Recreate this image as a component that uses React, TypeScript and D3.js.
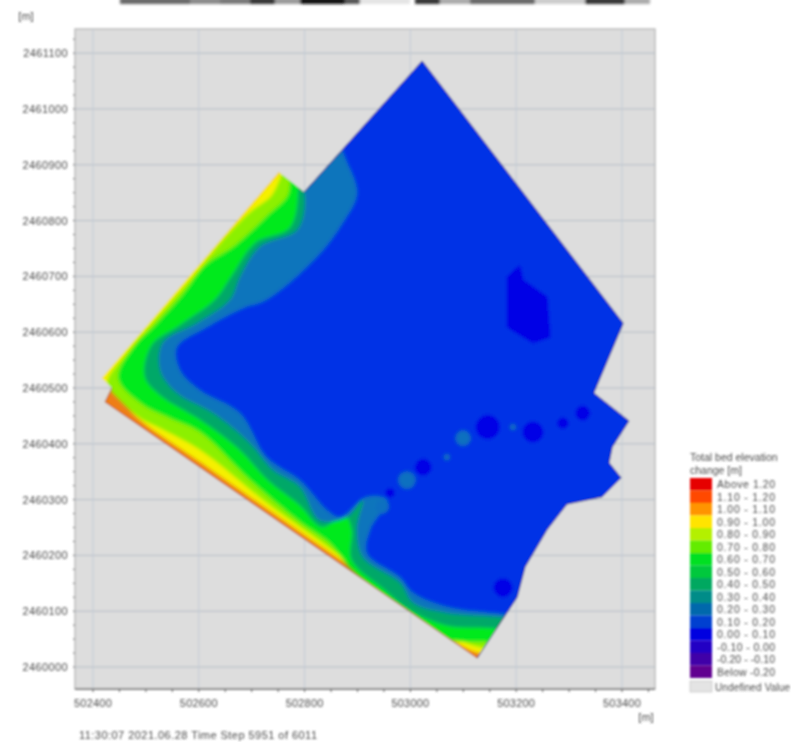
import React from "react";
import * as d3 from "d3";

type P = [number, number];

// Model coordinates are metres east / north of this origin.
const E0 = 502400;
const N0 = 2460000;
const eastTicks = [0, 200, 400, 600, 800, 1000];
const northTicks = [1100, 1000, 900, 800, 700, 600, 500, 400, 300, 200, 100, 0];

const domainOutline: P[] = [[627,1086],[1010,616],[954,491],[1021,441],[989,394],[983,366],[1006,339],[970,305],[903,292],[865,246],[823,179],[808,125],[732,16],[23,475],[36,500],[17,518],[354,887],[402,851]];
const seawardEdge: P[] = [[732,16],[23,475],[36,500]];
const landwardEdge: P[] = [[402,851],[627,1086],[1010,616],[954,491],[1021,441],[989,394],[983,366],[1006,339],[970,305],[903,292],[865,246],[823,179],[808,125],[732,16]];

const contourYellow: P[] = [[366,900],[23,529],[11,514],[48,487],[80,450],[204,367],[394,242],[585,118],[718,30],[832,9]];
const contourLime: P[] = [[362,891],[341,846],[299,815],[251,769],[185,694],[128,633],[61,559],[27,509],[51,478],[90,446],[128,428],[204,389],[337,290],[432,226],[528,159],[623,97],[690,52],[743,34],[832,27]];
const contourGreen: P[] = [[375,891],[371,846],[333,810],[271,756],[213,720],[170,667],[118,613],[80,577],[48,518],[95,470],[147,446],[204,421],[299,335],[394,260],[451,222],[490,177],[556,124],[623,75],[680,48],[747,45],[832,39]];
const contourTealGreen: P[] = [[387,891],[391,851],[375,787],[309,760],[265,702],[232,658],[166,613],[112,577],[99,520],[128,487],[204,443],[280,389],[333,335],[394,290],[436,251],[480,272],[493,246],[493,192],[556,138],[604,102],[671,75],[756,70],[832,66]];
const contourTeal: P[] = [[391,891],[404,837],[389,783],[318,753],[280,699],[261,658],[198,616],[133,581],[128,532],[160,491],[229,455],[299,401],[343,353],[394,323],[432,263],[484,269],[514,299],[503,251],[514,197],[585,151],[610,115],[674,97],[770,90],[832,84]];
const contourBlue: P[] = [[461,962],[480,914],[503,849],[476,796],[427,735],[331,658],[286,643],[217,609],[160,573],[166,532],[204,496],[280,455],[331,376],[394,335],[446,281],[471,269],[522,305],[560,299],[528,246],[522,204],[585,161],[610,133],[674,108],[762,97],[832,93]];

const bandContours = [contourYellow, contourLime, contourGreen, contourTealGreen, contourTeal, contourBlue];
const bandColors = ["#f6f000", "#8cf000", "#00ea1c", "#00a868", "#0d74bc", "#0030e6"];
const baseColor = "#ee7d16";

const deepBlob: P[] = [[789,699],[813,720],[819,694],[865,663],[871,591],[838,581],[789,609]];
const deepSpots: [number, number, number][] = [[752,430,22],[838,421,19],[895,437,10],[933,455,13],[629,358,15],[566,312,8],[781,142,17]];
const shallowSpots: [number, number, number][] = [[705,410,15],[598,335,17],[551,287,13],[674,376,6],[800,430,6]];

const legendTitle = ["Total bed elevation", "change [m]"];
const legendLabels = ["Above  1.20","1.10 - 1.20","1.00 - 1.10","0.90 - 1.00","0.80 - 0.90","0.70 - 0.80","0.60 - 0.70","0.50 - 0.60","0.40 - 0.50","0.30 - 0.40","0.20 - 0.30","0.10 - 0.20","0.00 - 0.10","-0.10 - 0.00","-0.20 - -0.10","Below  -0.20"];
const legendColors = ["#e60000","#ff4a00","#ff9400","#ffe400","#b4f000","#64ec00","#00e020","#00c83c","#00a860","#008c88","#0068ac","#0040d0","#0000e0","#2000c4","#4000a8","#600090"];
const undefinedLabel = "Undefined Value";
const footer = "11:30:07 2021.06.28   Time Step 5951 of 6011";

const topStrip: [number, number, string][] = [[120,190,"#666"],[190,220,"#888"],[220,250,"#777"],[250,275,"#333"],[275,300,"#999"],[300,345,"#111"],[345,360,"#555"],[360,410,"#e4e4e4"],[415,440,"#333"],[440,470,"#aaa"],[470,535,"#666"],[535,585,"#ccc"],[585,625,"#333"],[625,650,"#aaa"]];

const frame = { l: 75, r: 655, t: 29, b: 689 };
const x = d3.scaleLinear().domain([-34.3, 1070.6]).range([frame.l, frame.r]);
const y = d3.scaleLinear().domain([-39.4, 1143.3]).range([frame.b, frame.t]);
// The drawn axis runs a little wider than the plan view, as in the source picture.
const xAxis = d3.scaleLinear().domain([0, 1000]).range([93, 622]);
const line = d3.line<P>().x((d) => x(d[0])).y((d) => y(d[1]));
const contourLine = d3.line<P>().x((d) => x(d[0])).y((d) => y(d[1])).curve(d3.curveCatmullRom.alpha(0.5));
const [, xMax] = x.domain();
const [, yMax] = y.domain();
const bandPath = (c: P[]) =>
  contourLine(c) + "L" + [[xMax, c[c.length - 1][1]], [xMax, yMax], [c[0][0], yMax]].map((p) => `${x(p[0])},${y(p[1])}`).join("L") + "Z";
const minorX = d3.range(0, 1051, 50);
const minorY = d3.range(0, 1141, 25);
const font = "'Liberation Sans', Arial, sans-serif";
const ink = "#4a4a4a";

export default function App() {
  return (
    <svg width={791} height={742} style={{ position: "absolute", left: 0, top: 0, background: "#fff" }} fontFamily={font}>
      <defs>
        <filter id="soft" x="-2%" y="-2%" width="104%" height="104%"><feGaussianBlur stdDeviation="0.8" /></filter>
        <filter id="txt" x="-5%" y="-5%" width="110%" height="110%"><feGaussianBlur stdDeviation="0.85" /></filter>
        <filter id="band" x="-5%" y="-5%" width="110%" height="110%"><feGaussianBlur stdDeviation="1.8" /></filter>
        <filter id="strip" x="-2%" y="-100%" width="104%" height="300%"><feGaussianBlur stdDeviation="1.6" /></filter>
        <clipPath id="dom"><path d={line(domainOutline) + "Z"} /></clipPath>
      </defs>
      <g filter="url(#strip)">
        {topStrip.map(([a, b, c]) => <rect key={a} x={a} y={-2} width={b - a} height={6} fill={c} />)}
      </g>
      <g filter="url(#soft)">
        <rect x={frame.l} y={frame.t} width={frame.r - frame.l} height={frame.b - frame.t} fill="#dddddd" stroke="#bdbdbd" strokeWidth={1.5} />
        {northTicks.map((t) => <line key={t} x1={frame.l} x2={frame.r} y1={y(t)} y2={y(t)} stroke="#b4bcc6" strokeWidth={1} />)}
        {eastTicks.map((t) => <line key={t} x1={xAxis(t)} x2={xAxis(t)} y1={frame.t} y2={frame.b} stroke="#c2cbd6" strokeWidth={1} />)}
        <g clipPath="url(#dom)">
          <path d={line(domainOutline) + "Z"} fill={baseColor} />
          <g filter="url(#band)">
            {bandContours.map((c, i) => <path key={i} d={bandPath(c)} fill={bandColors[i]} />)}
          </g>
          <g filter="url(#band)">
            <path d={line(deepBlob) + "Z"} fill="#0000e6" />
            {deepSpots.map(([a, b, r]) => <circle key={a} cx={x(a)} cy={y(b)} r={x(r) - x(0)} fill="#0000e6" />)}
            {shallowSpots.map(([a, b, r]) => <circle key={a} cx={x(a)} cy={y(b)} r={x(r) - x(0)} fill="#0e70c0" />)}
          </g>
        </g>
        <path d={line(landwardEdge) ?? ""} fill="none" stroke="#12247a" strokeWidth={0.9} />
        <path d={line(seawardEdge) ?? ""} fill="none" stroke="#b85a10" strokeWidth={1} />
        <line x1={frame.l} x2={frame.r} y1={frame.b} y2={frame.b} stroke="#444" strokeWidth={1.2} />
        {minorX.map((t) => <line key={t} x1={xAxis(t)} x2={xAxis(t)} y1={frame.b} y2={frame.b + 3} stroke="#555" />)}
        {minorY.map((t) => <line key={t} x1={frame.l - 2} x2={frame.l} y1={y(t)} y2={y(t)} stroke="#666" />)}
        {legendLabels.map((s, i) => <rect key={s} x={690} y={478 + i * 12.5} width={22} height={12.5} fill={legendColors[i]} />)}
        <rect x={690} y={681} width={22} height={11} fill="#e4e4e4" stroke="#aaa" strokeWidth={0.5} />
      </g>
      <g filter="url(#txt)" fill={ink}>
        <g fontSize={11}>
          {northTicks.map((t) => <text key={t} x={68} y={y(t) + 4} textAnchor="end" letterSpacing={0.4}>{N0 + t}</text>)}
          {eastTicks.map((t) => <text key={t} x={xAxis(t)} y={707} textAnchor="middle" letterSpacing={0.2}>{E0 + t}</text>)}
          <text x={26} y={20} textAnchor="middle">[m]</text>
          <text x={646} y={721} textAnchor="middle">[m]</text>
          <text x={79} y={739} textLength={238}>{footer}</text>
        </g>
        <g fontSize={10.5}>
          {legendTitle.map((s, i) => <text key={s} x={690} y={461 + i * 13}>{s}</text>)}
          {legendLabels.map((s, i) => <text key={s} x={717} y={488 + i * 12.5} textLength={58}>{s}</text>)}
          <text x={715} y={691} fontSize={10} textLength={75}>{undefinedLabel}</text>
        </g>
      </g>
    </svg>
  );
}
